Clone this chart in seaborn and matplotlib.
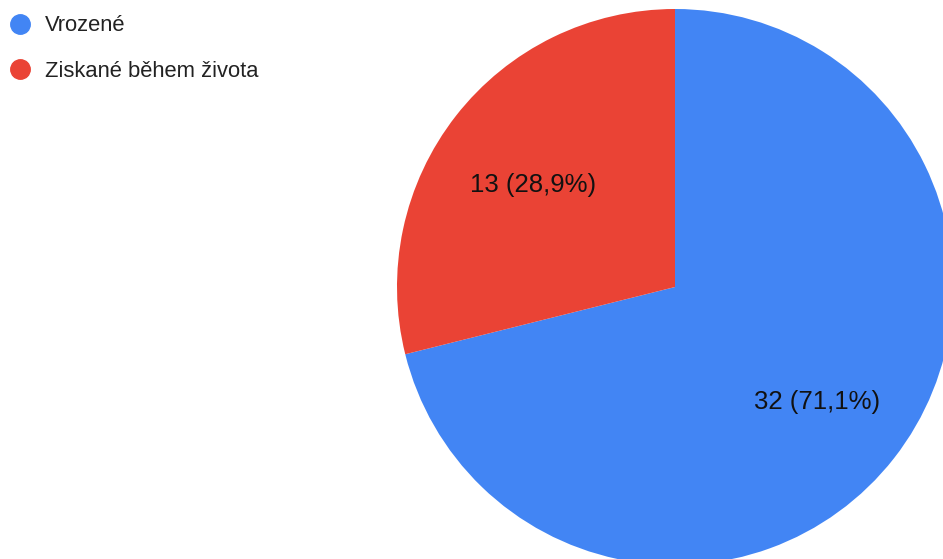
import matplotlib
matplotlib.use("Agg")
import matplotlib.pyplot as plt
from matplotlib.lines import Line2D
import seaborn as sns

categories = ["Vrozené", "Získané během života"]
legend_labels = ["Vrozené", "Ziskané během života"]
counts = [32, 13]
colors = ["#4285F4", "#EA4335"]

sns.set_theme(style="white")
plt.rcParams['font.family'] = ['Liberation Sans', 'DejaVu Sans']

W, H = 943, 559
fig = plt.figure(figsize=(W / 100, H / 100), dpi=100)

# pie centre / radius in pixels
cx, cy, r = 675, 287, 278
ax = fig.add_axes([(cx - r) / W, (H - cy - r) / H, 2 * r / W, 2 * r / H])

total = sum(counts)

def fmt(pct):
    n = int(round(pct * total / 100))
    return f"{n} ({pct:.1f}%)".replace(".", ",")

wedges, texts, autotexts = ax.pie(counts, colors=colors, startangle=90,
                                  counterclock=False, autopct=fmt,
                                  pctdistance=0.65, radius=1,
                                  wedgeprops=dict(linewidth=0))
# small nudges so labels sit like the original
for t, dy in zip(autotexts, [-0.014, -0.032]):
    t.set_fontsize(18.5)
    t.set_color("#111111")
    x, y = t.get_position()
    t.set_position((x, y + dy))
ax.set_xlim(-1, 1)
ax.set_ylim(-1, 1)
ax.set_aspect("equal")
ax.axis("off")

# legend
handles = [Line2D([0], [0], marker="o", color="none", markerfacecolor=c,
                  markeredgecolor=c, markersize=14) for c in colors]
fig.legend(handles, legend_labels, loc="upper left",
           bbox_to_anchor=(-0.006, 0.996), frameon=False, fontsize=15.8,
           labelcolor="#222222", handletextpad=0.6, labelspacing=1.12,
           borderaxespad=0.3, handlelength=1.1, borderpad=0.3)

fig.savefig("out.png", dpi=100)
